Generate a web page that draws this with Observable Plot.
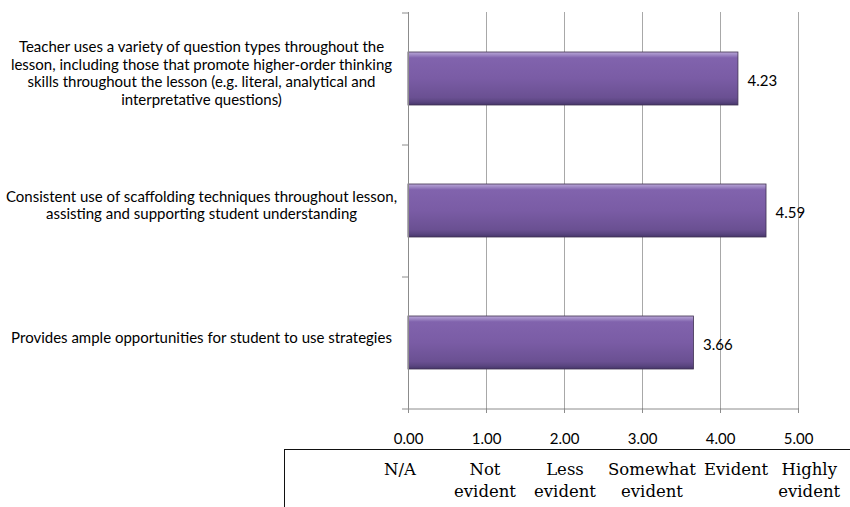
<!DOCTYPE html>
<html><head><meta charset="utf-8">
<script src="https://cdn.jsdelivr.net/npm/d3@7"></script>
<script src="https://cdn.jsdelivr.net/npm/@observablehq/plot@0.6"></script>
<style>
body{margin:0;background:#fff;width:850px;height:507px;overflow:hidden;position:relative}
#chart svg{display:block}
#scale{position:absolute;left:284px;top:449px;width:600px;height:90px;border-top:1px solid #111;border-left:1px solid #111;font-family:"DejaVu Serif",serif;font-size:16.5px;line-height:22px;color:#000}
#scale table{border-collapse:collapse;table-layout:fixed}
#scale td{text-align:center;vertical-align:top;padding:9px 0 0 0;white-space:pre-line}
</style></head><body>
<div id="chart"></div>
<div id="scale"></div>
<script>
const categories = ["q1", "q2", "q3"];
const labels = [
  "Teacher uses a variety of question types throughout the\nlesson, including those that promote higher-order thinking\nskills throughout the lesson (e.g. literal, analytical and\ninterpretative questions)",
  "Consistent use of scaffolding techniques throughout lesson,\nassisting and supporting student understanding",
  "Provides ample opportunities for student to use strategies"
];
const values = [4.23, 4.59, 3.66];
const xTicks = [0, 1, 2, 3, 4, 5];
const scaleLabels = ["", "N/A", "Not\nevident", "Less\nevident", "Somewhat\nevident", "Evident", "Highly\nevident"];
const scaleColWidths = [75, 80, 90, 70, 104, 64, 82];

const data = categories.map((c, i) => ({cat: c, label: labels[i], value: values[i]}));
const last = categories[categories.length - 1];

const plot = Plot.plot({
  width: 850, height: 449,
  marginLeft: 408, marginRight: 52, marginTop: 12, marginBottom: 41,
  style: {fontFamily: "Lato, sans-serif", fontSize: "15px", color: "#000", background: "transparent"},
  x: {domain: [0, 5], label: null},
  y: {domain: categories, paddingInner: 0.6, paddingOuter: 0.3, axis: null},
  marks: [
    Plot.ruleX(xTicks.slice(1), {stroke: "#a8a8a8", strokeWidth: 1}),
    Plot.barX(data, {x: "value", y: "cat", fill: "url(#barGrad)", stroke: "#3f3151", strokeWidth: 0.8}),
    Plot.ruleX([0], {stroke: "#8c8c8c"}),
    Plot.ruleY([last], {y: d => d, dy: 66, stroke: "#8c8c8c"}),
    Plot.ruleY(categories, {y: d => d, dy: -66, x1: 0, x2: 0, insetLeft: -6, stroke: "#8c8c8c"}),
    Plot.ruleY([last], {y: d => d, dy: 66, x1: 0, x2: 0, insetLeft: -6, stroke: "#8c8c8c"}),
    Plot.axisX(xTicks, {tickSize: 5, tickPadding: 20, tickFormat: d3.format(".2f"), stroke: "#8c8c8c", fill: "#000", fontSize: 15, label: null}),
    Plot.text(data, {x: "value", y: "cat", text: d => d.value.toFixed(2), dx: 9, dy: 2, textAnchor: "start", fontSize: 15, fill: "#000"}),
    Plot.text(data, {y: "cat", text: "label", frameAnchor: "left", dx: -207, dy: -6, textAnchor: "middle", lineHeight: 1.17, fontSize: 15, fill: "#000"})
  ]
});

const defs = d3.select(plot).insert("defs", ":first-child");
const g = defs.append("linearGradient").attr("id", "barGrad").attr("x1", 0).attr("y1", 0).attr("x2", 0).attr("y2", 1);
[[0, "#b9a6d6"], [0.05, "#a08ac6"], [0.11, "#8163ad"], [0.5, "#7a5ca5"], [0.86, "#6a5092"], [0.94, "#5a4580"], [1, "#46366a"]]
  .forEach(([o, c]) => g.append("stop").attr("offset", o).attr("stop-color", c));

document.getElementById("chart").appendChild(plot);

const table = d3.select("#scale").append("table");
const cg = table.append("colgroup");
scaleColWidths.forEach(w => cg.append("col").style("width", w + "px"));
table.append("tr").selectAll("td").data(scaleLabels).join("td").text(d => d);
</script>
</body></html>
